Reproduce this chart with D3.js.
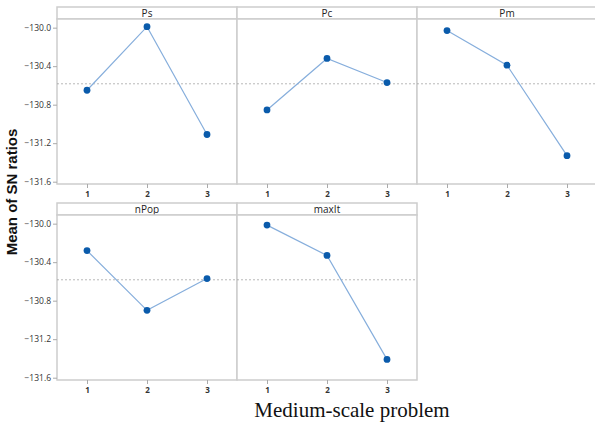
<!DOCTYPE html>
<html>
<head>
<meta charset="utf-8">
<script src="https://cdn.jsdelivr.net/npm/d3@7"></script>
<style>
  body { margin: 0; background: #fff; }
  svg { display: block; }
</style>
</head>
<body>
<svg id="chart" width="595" height="427"></svg>
<script>
// valores
const factors = ["Ps", "Pc", "Pm", "nPop", "maxIt"];
const levels = [1, 2, 3];
const PsVals = [-130.65, -129.99, -131.11];
const PcVals = [-130.855, -130.32, -130.57];
const PmVals = [-130.03, -130.39, -131.33];
const nPopVals = [-130.28, -130.90, -130.57];
const maxItVals = [-130.015, -130.33, -131.41];
const yTicks = [-130.0, -130.4, -130.8, -131.2, -131.6];
const grandMean = -130.583;

const series = [PsVals, PcVals, PmVals, nPopVals, maxItVals];

const svg = d3.select("#chart");

const colX = [57, 237, 417];
const rowTop = [7, 203];
const panelW = 180, headerH = 12, plotH = 165;

const x = d3.scaleLinear().domain([0.5, 3.5]).range([0, panelW]);
const y = d3.scaleLinear().domain([-131.624, -129.91]).range([plotH, 0]);

const frameColor = "#cdcdcd";
const sans = "'Open Sans', 'DejaVu Sans', sans-serif";

factors.forEach((name, i) => {
  const col = i % 3, row = Math.floor(i / 3);
  const g = svg.append("g").attr("transform", `translate(${colX[col]},${rowTop[row]})`);

  // cabeçalho
  g.append("rect")
    .attr("x", 0).attr("y", 0).attr("width", panelW).attr("height", headerH)
    .attr("fill", "#fff").attr("stroke", frameColor).attr("stroke-width", 1.5);
  g.append("text")
    .attr("x", panelW / 2).attr("y", headerH / 2 + 3.5)
    .attr("text-anchor", "middle")
    .attr("font-family", sans)
    .attr("font-size", 10).attr("fill", "#222")
    .text(name);

  const p = g.append("g").attr("transform", `translate(0,${headerH})`);
  p.append("rect")
    .attr("x", 0).attr("y", 0).attr("width", panelW).attr("height", plotH)
    .attr("fill", "#fff").attr("stroke", frameColor).attr("stroke-width", 1.5);

  // linha da média geral
  p.append("line")
    .attr("x1", 0).attr("x2", panelW)
    .attr("y1", y(grandMean)).attr("y2", y(grandMean))
    .attr("stroke", "#999").attr("stroke-width", 0.7)
    .attr("stroke-dasharray", "2,2");

  const data = levels.map((l, k) => ({ l, v: series[i][k] }));
  const line = d3.line().x(d => x(d.l)).y(d => y(d.v));
  p.append("path").datum(data)
    .attr("fill", "none").attr("stroke", "#86aedc").attr("stroke-width", 1.2)
    .attr("d", line);
  p.selectAll("circle").data(data).join("circle")
    .attr("cx", d => x(d.l)).attr("cy", d => y(d.v))
    .attr("r", 3.4).attr("fill", "#0a5bab");

  // eixo x
  const xAxis = d3.axisBottom(x).tickValues(levels).tickSize(4).tickPadding(3).tickFormat(d3.format("d"));
  const ax = p.append("g").attr("transform", `translate(0,${plotH})`).call(xAxis);
  ax.select(".domain").remove();
  ax.selectAll("line").attr("stroke", "#aaa");
  ax.selectAll("text").attr("font-family", sans)
    .attr("font-size", 8).attr("font-weight", "bold").attr("fill", "#333");

  // eixo y só na primeira coluna
  if (col === 0) {
    const yAxis = d3.axisLeft(y).tickValues(yTicks).tickSize(4).tickPadding(2).tickFormat(d3.format(".1f"));
    const ay = p.append("g").call(yAxis);
    ay.select(".domain").remove();
    ay.selectAll("line").attr("stroke", "#aaa");
    ay.selectAll("text").attr("font-family", sans)
      .attr("font-size", 8.5).attr("fill", "#333");
  }
});

// títulos
svg.append("text")
  .attr("transform", "translate(17,192) rotate(-90)")
  .attr("text-anchor", "middle")
  .attr("font-family", "'Liberation Sans', Arial, sans-serif")
  .attr("font-size", 15).attr("font-weight", "bold").attr("fill", "#111")
  .text("Mean of SN ratios");

svg.append("text")
  .attr("x", 352).attr("y", 417)
  .attr("text-anchor", "middle")
  .attr("font-family", "'Liberation Serif', 'Times New Roman', serif")
  .attr("font-size", 21).attr("fill", "#111")
  .text("Medium-scale problem");
</script>
</body>
</html>
